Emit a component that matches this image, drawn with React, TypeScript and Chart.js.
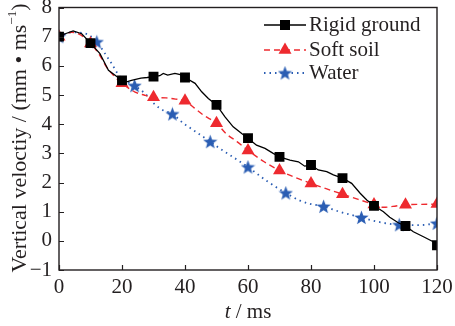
import React, { useEffect, useRef } from 'react';
import { Chart, registerables } from 'chart.js';

Chart.register(...registerables);

// ---- data ----
const rigidT = [0, 2, 4.5, 7.2, 10, 13, 14.6, 15.7, 17.8, 20, 21.5, 23, 26, 28, 30, 32, 33.1, 34.5, 36.8, 38.5, 40, 43.2, 45.3, 47.4, 50, 52.7, 55.3, 58, 60, 62.7, 65.4, 68, 70, 73.3, 76, 78, 80, 82.3, 85, 87.1, 90, 92.9, 95.6, 97.7, 100, 103, 105, 107.7, 110, 112.5, 115.7, 118.8, 120];
const rigidV = [7.0, 7.1, 7.2, 7.1, 6.78, 6.42, 6.08, 5.85, 5.68, 5.5, 5.45, 5.5, 5.58, 5.6, 5.63, 5.66, 5.74, 5.68, 5.74, 5.7, 5.6, 5.4, 5.11, 4.88, 4.66, 4.25, 3.91, 3.68, 3.52, 3.28, 3.17, 3.0, 2.88, 2.77, 2.71, 2.56, 2.6, 2.43, 2.37, 2.26, 2.15, 1.97, 1.63, 1.4, 1.2, 1.0, 0.81, 0.62, 0.51, 0.31, 0.14, -0.03, -0.15];
const rigidMarkers = [0, 10, 20, 30, 40, 50, 60, 70, 80, 90, 100, 110, 120];

const softT = [0, 4, 7, 10, 13, 15, 17.5, 20, 24, 27, 30, 34, 37, 40, 43, 46, 50, 53, 56.5, 60, 65, 70, 75, 80, 85, 90, 95, 100, 103, 106, 110, 115, 120];
const softV = [7.0, 7.15, 7.05, 6.77, 6.35, 5.97, 5.65, 5.4, 5.11, 5.0, 4.92, 4.9, 4.86, 4.8, 4.55, 4.3, 4.03, 3.68, 3.4, 3.1, 2.72, 2.41, 2.17, 1.97, 1.78, 1.6, 1.42, 1.25, 1.15, 1.18, 1.24, 1.25, 1.26];
const softMarkers = [0, 10, 20, 30, 40, 50, 60, 70, 80, 90, 100, 110, 120];

const waterT = [0, 4, 8.3, 12, 14.6, 16.7, 19.4, 24, 27.3, 30, 33, 36, 39.5, 42.6, 48, 51, 54.3, 60, 66, 72, 76.5, 80, 84, 89, 96, 101, 108, 114.6, 120];
const waterV = [7.0, 7.15, 7.11, 6.82, 6.42, 6.08, 5.62, 5.32, 5.05, 4.72, 4.48, 4.35, 4.03, 3.8, 3.4, 3.17, 2.94, 2.53, 2.05, 1.64, 1.38, 1.26, 1.18, 1.0, 0.8, 0.66, 0.55, 0.54, 0.6];
const waterMarkers = [0, 12, 24, 36, 48, 60, 72, 84, 96, 108, 120];

const seriesNames = ['Rigid ground', 'Soft soil', 'Water'];
const xTickValues = [0, 20, 40, 60, 80, 100, 120];
const yTickValues = [-1, 0, 1, 2, 3, 4, 5, 6, 7, 8];
const xTitleItalic = 't';
const xTitleRest = ' / ms';
const yTitleMain = 'Vertical veloctiy / (mm \u2022 ms';
const yTitleSup = '\u22121';
const yTitleEnd = ')';

const FONT = '"Liberation Serif", "Times New Roman", serif';
const BLACK = '#000000';
const RED = '#ee2a2f';
const BLUE = '#2a5db3';

function makeStar(color: string, size: number): HTMLCanvasElement {
  const c = document.createElement('canvas');
  c.width = size;
  c.height = size;
  const ctx = c.getContext('2d')!;
  const cx = size / 2, cy = size / 2 + 0.6;
  const R = size / 2, r = R * 0.42;
  ctx.beginPath();
  for (let i = 0; i < 10; i++) {
    const ang = -Math.PI / 2 + (i * Math.PI) / 5;
    const rad = i % 2 === 0 ? R : r;
    const px = cx + Math.cos(ang) * rad;
    const py = cy + Math.sin(ang) * rad;
    if (i === 0) ctx.moveTo(px, py);
    else ctx.lineTo(px, py);
  }
  ctx.closePath();
  ctx.fillStyle = color;
  ctx.fill();
  return c;
}

const toXY = (t: number[], v: number[]) => t.map((x, i) => ({ x, y: v[i] }));

export default function App() {
  const ref = useRef<HTMLCanvasElement>(null);

  useEffect(() => {
    document.body.style.margin = '0';
    const star = makeStar(BLUE, 15);
    const legendStar = makeStar(BLUE, 15);

    const markerRadius = (markers: number[], r: number) => (c: any) =>
      c && c.raw && markers.includes(c.raw.x) ? r : 0;

    const framePlugin = {
      id: 'frame',
      afterDraw(chart: any) {
        const { ctx, chartArea } = chart;
        const { left, right, top, bottom } = chartArea;
        const xs = chart.scales.x;
        const ys = chart.scales.y;
        ctx.save();
        ctx.setLineDash([]);
        ctx.strokeStyle = '#231f20';
        ctx.lineWidth = 1.4;
        ctx.strokeRect(left, top, right - left, bottom - top);
        ctx.lineWidth = 1.2;
        ctx.beginPath();
        xTickValues.forEach((v) => {
          const px = Math.round(xs.getPixelForValue(v)) + 0.5;
          ctx.moveTo(px, bottom);
          ctx.lineTo(px, bottom - 5);
        });
        yTickValues.forEach((v) => {
          const py = Math.round(ys.getPixelForValue(v)) + 0.5;
          ctx.moveTo(left, py);
          ctx.lineTo(left + 5, py);
        });
        ctx.stroke();

        // x title
        ctx.fillStyle = '#231f20';
        ctx.textBaseline = 'middle';
        ctx.textAlign = 'left';
        ctx.font = `italic 21px ${FONT}`;
        const wT = ctx.measureText(xTitleItalic).width;
        ctx.font = `21px ${FONT}`;
        const wR = ctx.measureText(xTitleRest).width;
        const cx = (left + right) / 2;
        const x0 = cx - (wT + wR) / 2;
        ctx.font = `italic 21px ${FONT}`;
        ctx.fillText(xTitleItalic, x0, 312);
        ctx.font = `21px ${FONT}`;
        ctx.fillText(xTitleRest, x0 + wT, 312);

        // y title (rotated)
        ctx.save();
        ctx.translate(20, 138);
        ctx.rotate(-Math.PI / 2);
        ctx.font = `22px ${FONT}`;
        const w1 = ctx.measureText(yTitleMain).width;
        const w3 = ctx.measureText(yTitleEnd).width;
        ctx.font = `13px ${FONT}`;
        const w2 = ctx.measureText(yTitleSup).width;
        const sx = -(w1 + w2 + w3) / 2;
        ctx.font = `22px ${FONT}`;
        ctx.fillText(yTitleMain, sx, 0);
        ctx.font = `13px ${FONT}`;
        ctx.fillText(yTitleSup, sx + w1, -7);
        ctx.font = `22px ${FONT}`;
        ctx.fillText(yTitleEnd, sx + w1 + w2, 0);
        ctx.restore();

        // legend
        const rows = [
          { y: 25, color: BLACK, dash: [] as number[], width: 1.3, marker: 'rect' },
          { y: 50, color: RED, dash: [6, 4], width: 1.4, marker: 'triangle' },
          { y: 73, color: BLUE, dash: [1.5, 4], width: 1.8, marker: 'star' },
        ];
        const lx0 = 264, lx1 = 306, mx = 285, tx = 309;
        rows.forEach((row, i) => {
          ctx.save();
          ctx.strokeStyle = row.color;
          ctx.lineWidth = row.width;
          ctx.setLineDash(row.dash);
          ctx.beginPath();
          ctx.moveTo(lx0, row.y);
          ctx.lineTo(lx1, row.y);
          ctx.stroke();
          ctx.setLineDash([]);
          ctx.fillStyle = row.color;
          if (row.marker === 'rect') {
            ctx.fillRect(mx - 5, row.y - 5, 10, 10);
          } else if (row.marker === 'triangle') {
            ctx.beginPath();
            ctx.moveTo(mx, row.y - 7.5);
            ctx.lineTo(mx + 6.5, row.y + 3.75);
            ctx.lineTo(mx - 6.5, row.y + 3.75);
            ctx.closePath();
            ctx.fill();
          } else {
            ctx.drawImage(legendStar, mx - 7.5, row.y - 7.5);
          }
          ctx.fillStyle = '#231f20';
          ctx.font = `21px ${FONT}`;
          ctx.textBaseline = 'middle';
          ctx.textAlign = 'left';
          ctx.fillText(seriesNames[i], tx, row.y);
          ctx.restore();
        });
        ctx.restore();
      },
    };

    const chart = new Chart(ref.current!, {
      type: 'line',
      data: {
        datasets: [
          {
            label: seriesNames[0],
            data: toXY(rigidT, rigidV),
            borderColor: BLACK,
            backgroundColor: BLACK,
            borderWidth: 1.3,
            tension: 0,
            pointStyle: 'rect',
            pointRadius: markerRadius(rigidMarkers, 7),
            pointBackgroundColor: BLACK,
            pointBorderWidth: 0,
          },
          {
            label: seriesNames[1],
            data: toXY(softT, softV),
            borderColor: RED,
            backgroundColor: RED,
            borderWidth: 1.4,
            borderDash: [6, 4],
            cubicInterpolationMode: 'monotone',
            pointStyle: 'triangle',
            pointRadius: markerRadius(softMarkers, 7.5),
            pointBackgroundColor: RED,
            pointBorderWidth: 0,
          },
          {
            label: seriesNames[2],
            data: toXY(waterT, waterV),
            borderColor: BLUE,
            backgroundColor: BLUE,
            borderWidth: 1.8,
            borderDash: [1.5, 4],
            cubicInterpolationMode: 'monotone',
            pointStyle: star as any,
            pointRadius: markerRadius(waterMarkers, 7),
            pointBackgroundColor: BLUE,
            pointBorderWidth: 0,
          },
        ] as any,
      },
      options: {
        responsive: false,
        animation: false,
        devicePixelRatio: 1,
        layout: { padding: { top: 7, right: 18, left: 0, bottom: 0 } },
        plugins: { legend: { display: false }, tooltip: { enabled: false } },
        scales: {
          x: {
            type: 'linear',
            min: 0,
            max: 120,
            grid: { display: false, drawTicks: false },
            border: { display: false },
            afterBuildTicks: (s: any) => {
              s.ticks = xTickValues.map((v) => ({ value: v }));
            },
            afterFit: (s: any) => {
              s.height = 56;
              s.paddingLeft = 0;
              s.paddingRight = 0;
            },
            ticks: {
              autoSkip: false,
              maxRotation: 0,
              padding: 5,
              color: '#231f20',
              font: { family: FONT, size: 21 },
            },
          },
          y: {
            type: 'linear',
            min: -1,
            max: 8,
            grid: { display: false, drawTicks: false },
            border: { display: false },
            afterBuildTicks: (s: any) => {
              s.ticks = yTickValues.map((v) => ({ value: v }));
            },
            afterFit: (s: any) => {
              s.width = 59;
              s.paddingTop = 0;
              s.paddingBottom = 0;
            },
            ticks: {
              autoSkip: false,
              padding: 7,
              color: '#231f20',
              font: { family: FONT, size: 21 },
              callback: (v: any) => String(v).replace('-', '\u2212'),
            },
          },
        },
      } as any,
      plugins: [framePlugin],
    });
    return () => chart.destroy();
  }, []);

  return (
    <div style={{ width: 455, height: 326 }}>
      <canvas ref={ref} width={455} height={326} style={{ width: 455, height: 326, display: 'block' }} />
    </div>
  );
}
